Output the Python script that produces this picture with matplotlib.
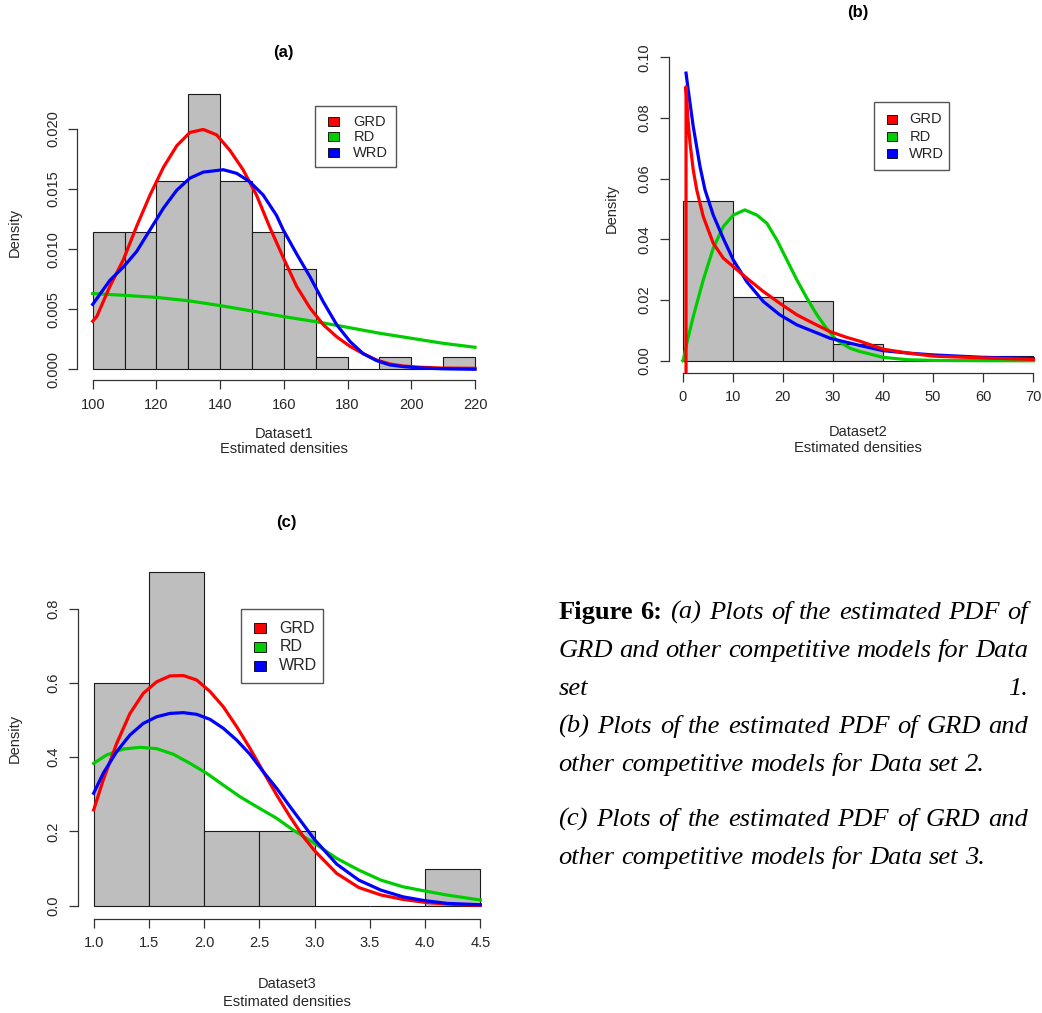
import matplotlib
matplotlib.use("Agg")
import matplotlib.pyplot as plt
from matplotlib.patches import Rectangle
import numpy as np

FIG_W, FIG_H = 1042, 1013

# ---------------- data ----------------
model_labels = ["GRD", "RD", "WRD"]
model_colors = ["#FF0000", "#00CD00", "#0000FF"]

# (a) Dataset1
a_edges = [100, 110, 120, 130, 140, 150, 160, 170, 180, 190, 200, 210, 220]
a_density = [0.01146, 0.01146, 0.01563, 0.02292, 0.01563, 0.01146, 0.00833,
             0.00104, 0.0, 0.00104, 0.0, 0.00104]
a_grd_x = [100, 101.3, 105.4, 109.6, 113.8, 118.0, 122.2, 126.4, 130.5, 134.7,
           138.9, 143.1, 147.2, 151.4, 155.6, 159.8, 164.0, 168.2, 172.4,
           176.6, 180.8, 184.9, 189.1, 193.3, 197.5, 202.7, 210, 220]
a_grd = [0.0040, 0.0044, 0.0069, 0.0091, 0.0119, 0.0145, 0.0168, 0.0186,
         0.0197, 0.01995, 0.0195, 0.0182, 0.0166, 0.0145, 0.0118, 0.0093,
         0.0069, 0.0051, 0.0037, 0.0027, 0.0019, 0.0013, 0.00077, 0.00044,
         0.00027, 0.00017, 0.0001, 0.00008]
a_wrd_x = [100, 105.4, 109.6, 113.8, 118.0, 122.2, 126.4, 130.5, 134.7, 141.0,
           145.2, 149.3, 153.5, 157.7, 159.8, 164.0, 168.2, 172.4, 176.6,
           180.8, 184.9, 189.1, 193.3, 197.5, 202.7, 210, 220]
a_wrd = [0.0054, 0.0074, 0.0085, 0.0098, 0.0116, 0.0134, 0.0149, 0.0159,
         0.0164, 0.0166, 0.0163, 0.0156, 0.0145, 0.0128, 0.0116, 0.0096,
         0.0077, 0.0056, 0.0037, 0.0023, 0.0013, 0.00072, 0.00036, 0.00022,
         0.00011, 0.00004, 0.0]
a_rd_x = [100, 110, 120, 130, 140, 150, 160, 170, 180, 190, 200, 210, 220]
a_rd = [0.00630, 0.00615, 0.00598, 0.0057, 0.0053, 0.00485, 0.00438, 0.00396,
        0.00349, 0.0030, 0.00258, 0.00216, 0.00183]

# (b) Dataset2
b_edges = [0, 10, 20, 30, 40, 50, 60, 70]
b_density = [0.0526, 0.0211, 0.0197, 0.0055, 0.0, 0.0, 0.0014]
b_grd_x = [0.66, 0.66, 1.0, 1.46, 2.1, 2.8, 4.1, 6.1, 8.1, 10.1, 12.8, 16.1,
           19.4, 22.8, 26.1, 29.4, 32.7, 35.4, 40, 45, 50, 60, 70]
b_grd = [-0.02, 0.0903, 0.0805, 0.0717, 0.0629, 0.0563, 0.0475, 0.0387,
         0.0338, 0.0310, 0.0272, 0.0228, 0.0189, 0.0151, 0.0123, 0.0096,
         0.0077, 0.0064, 0.0038, 0.0025, 0.0015, 0.0009, 0.0004]
b_wrd_x = [0.66, 1.0, 1.46, 2.1, 3.45, 4.45, 6.1, 8.1, 10.1, 12.8, 16.1, 19.4,
           22.8, 26.1, 29.4, 35.4, 40, 45, 50, 60, 70]
b_wrd = [0.0948, 0.0905, 0.0849, 0.0772, 0.0640, 0.0563, 0.0480, 0.0403,
         0.0332, 0.0260, 0.0195, 0.0151, 0.0118, 0.0096, 0.0074, 0.0050,
         0.0033, 0.0025, 0.0019, 0.0011, 0.0007]
b_rd_x = [0, 0.13, 0.8, 2.1, 4.1, 6.1, 8.1, 10.1, 12.4, 14.8, 16.8, 18.8, 20.8,
          22.8, 24.8, 26.8, 28.7, 30.7, 33.4, 35.4, 40, 45, 50, 60, 70]
b_rd = [0.0, 0.0002, 0.0057, 0.0145, 0.0266, 0.0371, 0.0442, 0.0480, 0.0497,
        0.0480, 0.0453, 0.0398, 0.0332, 0.0266, 0.0206, 0.0151, 0.0107,
        0.0068, 0.0041, 0.0030, 0.0011, 0.0003, 0.0001, 0.0, 0.0]

# (c) Dataset3
c_edges = [1.0, 1.5, 2.0, 2.5, 3.0, 3.5, 4.0, 4.5]
c_density = [0.6, 0.9, 0.2, 0.2, 0.0, 0.0, 0.1]
c_x = [1.0, 1.087, 1.208, 1.329, 1.449, 1.570, 1.691, 1.811, 1.932, 2.053,
       2.173, 2.295, 2.415, 2.535, 2.657, 2.777, 2.9, 3.0, 3.2, 3.4, 3.6, 3.8,
       4.0, 4.2, 4.5]
c_grd = [0.258, 0.339, 0.437, 0.518, 0.572, 0.603, 0.619, 0.620, 0.608, 0.577,
         0.536, 0.482, 0.424, 0.361, 0.298, 0.240, 0.185, 0.148, 0.087, 0.049,
         0.029, 0.017, 0.009, 0.0045, 0.001]
c_wrd = [0.303, 0.357, 0.415, 0.460, 0.491, 0.509, 0.518, 0.520, 0.5155, 0.502,
         0.478, 0.446, 0.408, 0.361, 0.316, 0.267, 0.218, 0.178, 0.112, 0.069,
         0.042, 0.024, 0.0135, 0.0063, 0.0027]
c_rd_x = [1.0, 1.117, 1.268, 1.419, 1.570, 1.721, 1.872, 2.023, 2.173, 2.324,
          2.476, 2.657, 2.8, 3.0, 3.2, 3.4, 3.6, 3.8, 4.0, 4.2, 4.5]
c_rd = [0.3835, 0.406, 0.422, 0.4266, 0.423, 0.408, 0.3835, 0.3566, 0.325,
        0.2937, 0.2667, 0.2354, 0.205, 0.168, 0.1275, 0.096, 0.069, 0.051,
        0.0395, 0.0287, 0.0153]

a_xticks = [100, 120, 140, 160, 180, 200, 220]
a_yticks = [0.000, 0.005, 0.010, 0.015, 0.020]
a_ytick_labels = ["0.000", "0.005", "0.010", "0.015", "0.020"]
b_xticks = [0, 10, 20, 30, 40, 50, 60, 70]
b_yticks = [0.00, 0.02, 0.04, 0.06, 0.08, 0.10]
b_ytick_labels = ["0.00", "0.02", "0.04", "0.06", "0.08", "0.10"]
c_xticks = [1.0, 1.5, 2.0, 2.5, 3.0, 3.5, 4.0, 4.5]
c_xtick_labels = ["1.0", "1.5", "2.0", "2.5", "3.0", "3.5", "4.0", "4.5"]
c_yticks = [0.0, 0.2, 0.4, 0.6, 0.8]
c_ytick_labels = ["0.0", "0.2", "0.4", "0.6", "0.8"]

caption_lines = [
    "Figure 6: (a) Plots of the estimated PDF of",
    "GRD and other competitive models for Data",
    "set 1.",
    "(b) Plots of the estimated PDF of GRD and",
    "other competitive models for Data set 2.",
    "(c) Plots of the estimated PDF of GRD and",
    "other competitive models for Data set 3.",
]
caption_justify = [True, True, True, True, False, True, False]
caption_baselines = [619, 657, 695, 733, 771, 826, 864]

# ---------------- helpers ----------------
plt.rcParams['font.family'] = ['Liberation Sans', 'DejaVu Sans']
TXT = "#262626"


def fx(x):
    return x / FIG_W


def fy(y):
    return 1 - y / FIG_H


def rect_px(left, top, right, bottom):
    return [left / FIG_W, 1 - bottom / FIG_H, (right - left) / FIG_W,
            (bottom - top) / FIG_H]


fig = plt.figure(figsize=(FIG_W / 100, FIG_H / 100), dpi=100)


def draw_legend(box, sq_x, sq_size, text_x, rows, fs):
    x0, y0, x1, y1 = box
    fig.add_artist(Rectangle((fx(x0), fy(y1)), fx(x1 - x0), (y1 - y0) / FIG_H,
                             transform=fig.transFigure, facecolor='white',
                             edgecolor='#555555', linewidth=1.0, zorder=5))
    for lab, col, ry in zip(model_labels, model_colors, rows):
        fig.add_artist(Rectangle((fx(sq_x), fy(ry + sq_size[1] / 2)),
                                 sq_size[0] / FIG_W, sq_size[1] / FIG_H,
                                 transform=fig.transFigure, facecolor=col,
                                 edgecolor='black', linewidth=0.6, zorder=6))
        fig.text(fx(text_x), fy(ry), lab, ha='left', va='center',
                 fontsize=fs, color=TXT, zorder=7)


def panel(rect, edges, dens, curves, xlim, ylim, xticks, xlabels, yticks,
          ylabels, title, title_xy, dens_xy, lab_xy, lab2_y, xname):
    ax = fig.add_axes(rect)
    edges = np.asarray(edges, float)
    ax.bar(edges[:-1], dens, width=np.diff(edges), align='edge',
           color='#BEBEBE', edgecolor='#1a1a1a', linewidth=0.8, zorder=1)
    for xs, ys, col in curves:
        ax.plot(xs, ys, color=col, lw=2.3, zorder=3, solid_joinstyle='round')
    ax.set_xlim(*xlim)
    ax.set_ylim(*ylim)
    for s in ['top', 'right']:
        ax.spines[s].set_visible(False)
    for s in ['left', 'bottom']:
        ax.spines[s].set_color('#333333')
        ax.spines[s].set_linewidth(0.9)
    ax.spines['left'].set_bounds(yticks[0], yticks[-1])
    ax.spines['bottom'].set_bounds(xticks[0], xticks[-1])
    ax.set_xticks(xticks)
    ax.set_xticklabels(xlabels)
    ax.set_yticks(yticks)
    ax.set_yticklabels(ylabels, rotation=90, va='center')
    ax.tick_params(direction='out', length=6.5, width=0.9, color='#333333',
                   labelsize=10.5, labelcolor=TXT, pad=6)
    ax.patch.set_visible(False)
    fig.text(fx(title_xy[0]), fy(title_xy[1]), title, ha='center', va='center',
             fontsize=12, fontweight='bold', color='black')
    fig.text(fx(dens_xy[0]), fy(dens_xy[1]), "Density", rotation=90,
             ha='center', va='center', fontsize=10.5, color=TXT)
    fig.text(fx(lab_xy[0]), fy(lab_xy[1]), xname, ha='center', va='center',
             fontsize=10.5, color=TXT)
    fig.text(fx(lab_xy[0]), fy(lab2_y), "Estimated densities", ha='center',
             va='center', fontsize=10.5, color=TXT)
    return ax


# (a)
panel(rect_px(77.4, 82.7, 490.3, 380.3), a_edges, a_density,
      [(a_rd_x, a_rd, model_colors[1]), (a_grd_x, a_grd, model_colors[0]),
       (a_wrd_x, a_wrd, model_colors[2])],
      (95.2, 224.8), (-0.000917, 0.02384), a_xticks,
      [str(v) for v in a_xticks], a_yticks, a_ytick_labels,
      "(a)", (283, 53), (15, 232), (283.8, 434), 449, "Dataset1")
draw_legend((315, 105.7, 396, 167), 328.3, (11, 9), 353.3,
            [121.7, 137.0, 152.7], 10.5)

# (b)
panel(rect_px(668.7, 45.2, 1047.3, 372.8), b_edges, b_density,
      [(b_rd_x, b_rd, model_colors[1]), (b_wrd_x, b_wrd, model_colors[2]),
       (b_grd_x, b_grd, model_colors[0])],
      (-2.8, 72.8), (-0.004, 0.104), b_xticks,
      [str(v) for v in b_xticks], b_yticks, b_ytick_labels,
      "(b)", (858, 13), (612, 208), (858, 432), 448, "Dataset2")
draw_legend((874.3, 102.3, 949, 170), 886.7, (10, 9), 909.3,
            [119.3, 136.7, 154.0], 10.5)

# (c)
panel(rect_px(78.2, 558.2, 495.8, 919.1), c_edges, c_density,
      [(c_rd_x, c_rd, model_colors[1]), (c_x, c_grd, model_colors[0]),
       (c_x, c_wrd, model_colors[2])],
      (0.86, 4.64), (-0.036, 0.936), c_xticks, c_xtick_labels,
      c_yticks, c_ytick_labels,
      "(c)", (286, 522.7), (15, 738), (287, 984), 1002, "Dataset3")
draw_legend((240.7, 609, 322.7, 683.3), 254, (11.5, 10), 279.3,
            [628.3, 646.7, 665.7], 11.5)

# ---------------- caption ----------------
renderer = fig.canvas.get_renderer()
cap_left, cap_right = 558.3, 1028.3
serif = ['Liberation Serif', 'DejaVu Serif']


def word_text(word, fs, bold):
    return fig.text(0, 0, word, fontsize=fs, family=serif,
                    style='normal' if bold else 'italic',
                    fontweight='bold' if bold else 'normal',
                    ha='left', va='baseline', color='black')


# fit font size so the unjustified line 5 spans the measured width (~427 px)
probe = word_text(caption_lines[4], 17, False)
w_probe = probe.get_window_extent(renderer).width
probe.remove()
cap_fs = 17 * 427.0 / w_probe

space_t = word_text("a a", cap_fs, False)
w_aa = space_t.get_window_extent(renderer).width
space_t.remove()
a_t = word_text("a", cap_fs, False)
w_space = w_aa - 2 * a_t.get_window_extent(renderer).width
a_t.remove()

for li, (line, just, base) in enumerate(zip(caption_lines, caption_justify,
                                             caption_baselines)):
    words = line.split(" ")
    texts = []
    widths = []
    for wi, w in enumerate(words):
        bold = (li == 0 and wi < 2)
        t = word_text(w, cap_fs, bold)
        texts.append(t)
        widths.append(t.get_window_extent(renderer).width)
    if just and len(words) > 1:
        gap = (cap_right - cap_left - sum(widths)) / (len(words) - 1)
    else:
        gap = w_space
    x = cap_left
    for t, w in zip(texts, widths):
        t.set_position((fx(x), fy(base)))
        x += w + gap

fig.savefig("out.png", dpi=100)
